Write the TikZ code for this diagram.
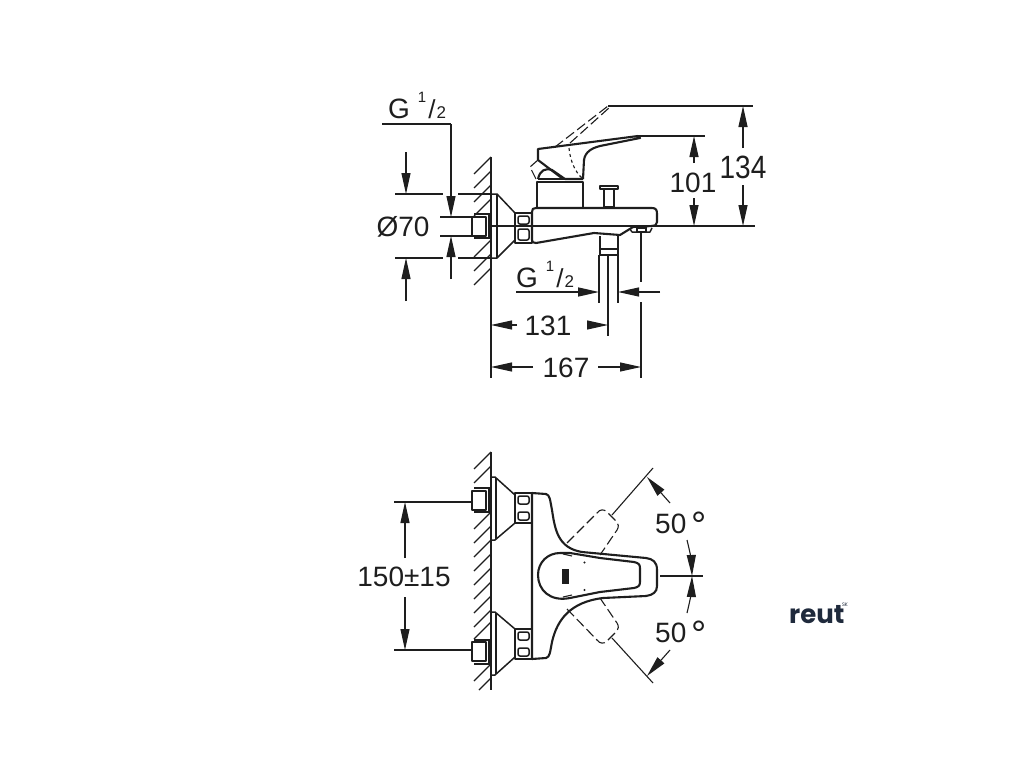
\documentclass[tikz,border=0pt]{standalone}
\usepackage{fontspec}
\setmainfont{Liberation Sans}
\newfontfamily\logofont{Poppins}
\usetikzlibrary{arrows.meta}
\definecolor{ink}{HTML}{1E1E1E}
\definecolor{logoblue}{HTML}{1F2A3C}
\newcommand{\halfmark}{G\hspace{8pt}\raisebox{16pt}{\fontsize{15}{15}\selectfont 1}\hspace{2pt}\raisebox{0pt}{\fontsize{26}{26}\selectfont /}\hspace{1pt}\raisebox{0pt}{\fontsize{17}{17}\selectfont 2}}
\newcommand{\degmark}{50\hspace{5pt}\raisebox{-5pt}{\fontsize{38}{38}\selectfont °}}
\tikzset{
  dimtext/.style={draw=none,inner sep=0pt,text=ink,font=\fontsize{28}{30}\selectfont},
  thin line/.style={draw=ink,line width=1.1pt},
  heavy/.style={draw=ink,line width=2.1pt,line join=round},
  medium/.style={draw=ink,line width=1.5pt,line join=round},
  ghost/.style={draw=ink,line width=1.1pt,dash pattern=on 10pt off 4pt},
  dim/.style={draw=ink,line width=1.1pt,-{Triangle[length=21pt,width=9pt,fill=ink]}},
}
\begin{document}
\begin{tikzpicture}[x=1pt,y=-1pt]
\useasboundingbox[fill=white] (0,0) rectangle (1024,768);

\draw[medium] (491,157) to (491,293);
\foreach \y in {157,171,185,199,240,254,268} \draw[thin line] (491,\y) -- ++(-17,17);
\draw[thin line] (491,293) to (491,378);

\draw[medium] (491,194) -- (497,194) -- (515,213) -- (515,240) -- (497,258) -- (491,258);
\draw[thin line] (497,194) -- (497,258);
\draw[heavy] (472,217) rectangle (486,236);
\draw[thin line] (474,214) -- (489,214) -- (489,238) -- (474,238);
\draw[heavy] (515,213) rectangle (532,243);
\draw[medium,rounded corners=2pt] (518,216) rectangle (529,224) (518,229) rectangle (529,240);
\draw[heavy] (532,212) .. controls (532,209) and (533,208) .. (536,208) -- (652,208) .. controls (656,208) and (657,210) .. (657,214) -- (657,222) .. controls (657,225) and (655,226) .. (652,226) -- (633,227) -- (620,235) -- (594,233) -- (536,243) .. controls (533,243) and (532,242) .. (532,240) -- cycle;
\draw[thin line] (489,226) -- (755,226);
\draw[heavy] (537,208) -- (537,182) -- (583,182) -- (583,208);
\draw[heavy] (538,179) .. controls (540,170) and (545,168) .. (552,170) -- (565,179) -- (583,179);
\draw[heavy] (538,179) -- (583,179);
\draw[heavy] (563,179) -- (538,160) -- (538,149) -- (638,136) -- (640,138) -- (605,145) .. controls (592,147) and (585,152) .. (584,160) -- (583,179);
\draw[ghost] (555,147) -- (608,106);
\draw[ghost] (570,143) -- (610,107);
\draw[ghost] (538,160) -- (530,167) -- (536,179);
\draw[thin line,dashed] (569,148) .. controls (570,160) and (575,172) .. (582,178);
\draw[medium] (600,189) -- (600,186) -- (618,186) -- (618,189) -- cycle;
\draw[medium] (604,189) -- (604,206) (614,189) -- (614,206);
\draw[heavy] (603,207) -- (615,207);
\draw[heavy] (600,236) -- (600,255) -- (618,255) -- (618,236);
\draw[medium] (600,249) -- (618,249);
\draw[medium] (630,229) -- (632,232) -- (650,232) -- (652,228);
\draw[thin line] (637,228) rectangle (646,232);

\node[name=dia,dimtext] at (403,227) {Ø70};
\node[name=gtop,dimtext,anchor=base west] at (388,118) {\halfmark};
\node[name=gbot,dimtext,anchor=base west] at (516,287) {\halfmark};
\node[name=low,dimtext] at (548,326) {131};
\node[name=wide,dimtext] at (566,368) {167};
\node[name=lever,dimtext] at (693,183) {101};
\node[name=lift,dimtext] at (743,167) {\scalebox{1}[1.15]{134}};

\coordinate (ga) at (382,124);
\coordinate (gb) at (451,124);
\coordinate (gc) at (451,217);
\coordinate (gd) at (451,279);
\coordinate (ge) at (451,236);
\coordinate (ra) at (406,152);
\coordinate (rb) at (406,194);
\coordinate (rc) at (406,301);
\coordinate (rd) at (406,258);
\draw[thin line] (ga) to (gb);
\draw[dim] (gb) to (gc);
\draw[dim] (gd) to (ge);
\draw[dim] (ra) to (rb);
\draw[dim] (rc) to (rd);
\draw[thin line] (395,194) to (443,194) (458,194) to (491,194);
\draw[thin line] (395,258) to (443,258) (458,258) to (491,258);
\draw[thin line] (440,217) to (472,217) (440,236) to (472,236);

\draw[thin line] (608,106) to (753,106);
\draw[thin line] (638,136) to (705,136);
\coordinate (la) at (694,163);
\coordinate (lb) at (694,136);
\coordinate (lc) at (694,198);
\coordinate (ld) at (694,226);
\coordinate (ma) at (743,148);
\coordinate (mb) at (743,106);
\coordinate (mc) at (743,185);
\coordinate (md) at (743,226);
\draw[dim] (la) to (lb);
\draw[dim] (lc) to (ld);
\draw[dim] (ma) to (mb);
\draw[dim] (mc) to (md);

\draw[thin line] (599,255) to (599,303);
\draw[thin line] (608,255) to (608,336);
\draw[thin line] (618,255) to (618,303);
\draw[thin line] (641,232) to (641,282) (641,302) to (641,378);
\coordinate (pa) at (516,292);
\coordinate (pb) at (599,292);
\coordinate (pc) at (660,292);
\coordinate (pd) at (618,292);
\coordinate (sa) at (517,325);
\coordinate (sb) at (491,325);
\coordinate (sc) at (587,325);
\coordinate (sd) at (608,325);
\coordinate (ta) at (533,367);
\coordinate (tb) at (491,367);
\coordinate (tc) at (598,367);
\coordinate (td) at (641,367);
\draw[dim,line width=1.5pt] (pa) to (pb);
\draw[dim] (pc) to (pd);
\draw[dim] (sa) to (sb);
\draw[dim] (sc) to (sd);
\draw[dim] (ta) to (tb);
\draw[dim] (tc) to (td);

\draw[medium] (491,452) to (491,690);
\foreach \y in {452,466,512,526,540,554,568,582,596,610,622,664} \draw[thin line] (491,\y) -- ++(-17,17);
\draw[thin line] (491,678) -- (479,690);
\foreach \dy/\sy in {0/1,-1152/-1} {
\begin{scope}[yshift=\dy pt,yscale=\sy]
\draw[medium] (491,477) -- (495,477) -- (515,495) -- (515,523) -- (495,540) -- (491,540);
\draw[thin line] (496,478) -- (496,539);
\draw[heavy] (472,491) rectangle (486,510);
\draw[thin line] (474,488) -- (489,488) -- (489,512) -- (474,512);
\draw[heavy] (515,493) rectangle (532,523);
\draw[medium,rounded corners=2pt] (518,496) rectangle (529,504) (518,512) rectangle (529,520);
\draw[thin line] (394,502) -- (472,502);
\end{scope}
}
\draw[heavy] (532,493) -- (546,494) .. controls (550,495) and (550,500) .. (552,510) .. controls (555,530) and (558,548) .. (582,552) -- (646,558) .. controls (653,559) and (657,562) .. (657,570) -- (657,586) .. controls (657,592) and (653,595) .. (646,596) -- (603,598) .. controls (570,602) and (557,620) .. (552,642) .. controls (550,652) and (550,657) .. (546,658) -- (532,659) -- cycle;
\draw[heavy] (538,575) .. controls (538,562) and (548,553) .. (560,553) -- (570,553) -- (600,558) -- (634,562) .. controls (638,563) and (640,564) .. (640,568) -- (640,582) .. controls (640,586) and (638,587) .. (634,588) -- (600,592) -- (570,598) .. controls (550,602) and (538,590) .. (538,575) -- cycle;
\draw[thin line] (563,554) -- (572,556) (563,597) -- (572,595);
\fill[ink] (562,569) rectangle (569,584);
\fill[ink] (584.5,562.5) circle (1.2pt) (584.5,590) circle (1.2pt);
\draw[ghost] (567,543) -- (597,513) .. controls (600,509) and (604,509) .. (607,512) -- (615,520) .. controls (619,524) and (619,527) .. (617,530) -- (600,555);
\draw[ghost] (567,609) -- (597,640) .. controls (600,644) and (604,644) .. (607,641) -- (615,633) .. controls (619,629) and (619,626) .. (617,623) -- (600,598);
\draw[thin line] (612,515) to (653,468);
\draw[thin line] (612,638) to (653,683);
\draw[thin line] (660,576) to (703,576);

\node[name=span,dimtext] at (404,577) {150±15};
\node[name=upper,dimtext,anchor=base west] at (655,533) {\degmark};
\node[name=lower,dimtext,anchor=base west] at (655,642) {\degmark};
\coordinate (ua) at (405,558);
\coordinate (ub) at (405,502);
\coordinate (uc) at (405,597);
\coordinate (ud) at (405,650);
\coordinate (va) at (670,503);
\coordinate (vb) at (647,477);
\coordinate (vc) at (687,540);
\coordinate (vd) at (692,576);
\coordinate (wa) at (670,650);
\coordinate (wb) at (647,676);
\coordinate (wc) at (687,613);
\coordinate (wd) at (692,576);
\draw[dim] (ua) to (ub);
\draw[dim] (uc) to (ud);
\draw[dim] (va) to (vb);
\draw[dim] (vc) to[bend left=6] (vd);
\draw[dim] (wa) to (wb);
\draw[dim] (wc) to[bend right=6] (wd);

\node[name=logo,draw=none,inner sep=0pt,anchor=west,text=logoblue,font=\logofont\bfseries\fontsize{26}{28}\selectfont] at (789,615) {reut};
\node[name=logotag,draw=none,inner sep=0pt,text=logoblue,font=\logofont\fontsize{5}{5}\selectfont] at (845,605) {SK};
\end{tikzpicture}
\end{document}
